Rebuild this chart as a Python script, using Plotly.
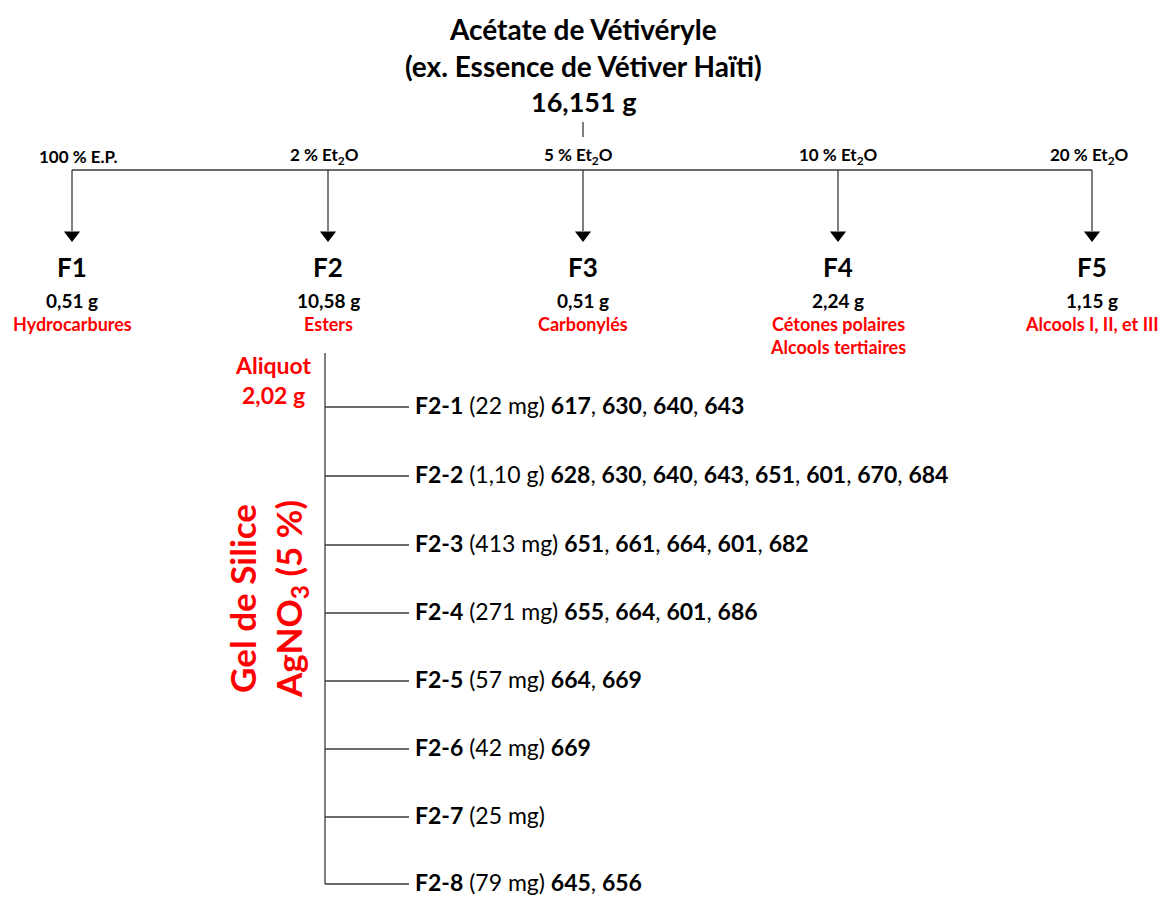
import plotly.graph_objects as go

# ---------------- data ----------------
title_lines = ["Acétate de Vétivéryle", "(ex. Essence de Vétiver Haïti)", "16,151 g"]
solvents = ["100 % E.P.", "2 % Et<sub>2</sub>O", "5 % Et<sub>2</sub>O", "10 % Et<sub>2</sub>O", "20 % Et<sub>2</sub>O"]
fractions = ["F1", "F2", "F3", "F4", "F5"]
fraction_mass = ["0,51 g", "10,58 g", "0,51 g", "2,24 g", "1,15 g"]
fraction_class = ["Hydrocarbures", "Esters", "Carbonylés", "Cétones polaires<br>Alcools tertiaires", "Alcools I, II, et III"]
aliquot_label = "Aliquot<br>2,02 g"
column_label = "Gel de Silice<br>AgNO<sub>3</sub> (5 %)"
sub_names = ["F2-1", "F2-2", "F2-3", "F2-4", "F2-5", "F2-6", "F2-7", "F2-8"]
sub_mass = ["22 mg", "1,10 g", "413 mg", "271 mg", "57 mg", "42 mg", "25 mg", "79 mg"]
sub_compounds = [
    ["617", "630", "640", "643"],
    ["628", "630", "640", "643", "651", "601", "670", "684"],
    ["651", "661", "664", "601", "682"],
    ["655", "664", "601", "686"],
    ["664", "669"],
    ["669"],
    [],
    ["645", "656"],
]

# ---------------- layout (pixel space) ----------------
W, H = 1165, 898
FONT = "Lato"
RED = "#ff0000"
LINE = "#3a3a3a"
col_x = [72, 328, 583, 838, 1092]
solv_x = [78, 324, 578, 838, 1089]
bar_y = 170
arrow_tip = 241
sub_y = [407, 476, 545, 613, 681, 749, 817, 884]
trunk_x = 325
branch_end = 409

fig = go.Figure()

def line(xs, ys):
    fig.add_trace(go.Scatter(x=xs, y=ys, mode="lines", line=dict(color=LINE, width=1.3),
                             hoverinfo="skip", showlegend=False))

# top stub
line([583, 583], [122, 137])
# horizontal bar
line([col_x[0], col_x[-1]], [bar_y, bar_y])
# drops
for cx in col_x:
    line([cx, cx], [bar_y, arrow_tip - 10])
fig.add_trace(go.Scatter(x=col_x, y=[arrow_tip - 6] * len(col_x), mode="markers",
                         marker=dict(symbol="triangle-down", size=14, color="black"),
                         hoverinfo="skip", showlegend=False))
# F2 sub tree
line([trunk_x, trunk_x], [353, sub_y[-1]])
for y in sub_y:
    line([trunk_x, branch_end], [y, y])

ann = []
def text(x, y, t, size, color="black", bold=True, xanchor="center", angle=0, yanchor="middle"):
    ann.append(dict(x=x, y=y, xref="x", yref="y", text=("<b>%s</b>" % t) if bold else t,
                    showarrow=False, xanchor=xanchor, yanchor=yanchor, textangle=angle,
                    font=dict(family=FONT, size=size, color=color)))

title_sizes = [28, 28, 27]
for i, t in enumerate(title_lines):
    text(583, [29, 66, 101][i], t, title_sizes[i])
for sx, s in zip(solv_x, solvents):
    text(sx, 156, s, 17)
for i, cx in enumerate(col_x):
    text(cx, 267, fractions[i], 26)
    text(cx, 300, fraction_mass[i], 19)
    text(cx, 311, fraction_class[i], 18, RED, yanchor="top")
text(273, 380, aliquot_label, 23, RED)
text(267, 599, column_label, 35, RED, angle=-90)

for i, y in enumerate(sub_y):
    s = "<b>%s</b> (%s)" % (sub_names[i], sub_mass[i])
    if sub_compounds[i]:
        s += " " + ", ".join("<b>%s</b>" % c for c in sub_compounds[i])
    ann.append(dict(x=413, y=y - 2, xref="x", yref="y", text=s, showarrow=False,
                    xanchor="left", yanchor="middle",
                    font=dict(family=FONT, size=23, color="black")))

fig.update_layout(
    width=W, height=H, margin=dict(l=0, r=0, t=0, b=0),
    paper_bgcolor="white", plot_bgcolor="white",
    xaxis=dict(range=[0, W], visible=False, fixedrange=True),
    yaxis=dict(range=[H, 0], visible=False, fixedrange=True),
    annotations=ann, showlegend=False,
)
fig.write_html("out.html", config={"displayModeBar": False},
               post_script="document.body.style.margin='0';document.body.style.overflow='hidden';")
